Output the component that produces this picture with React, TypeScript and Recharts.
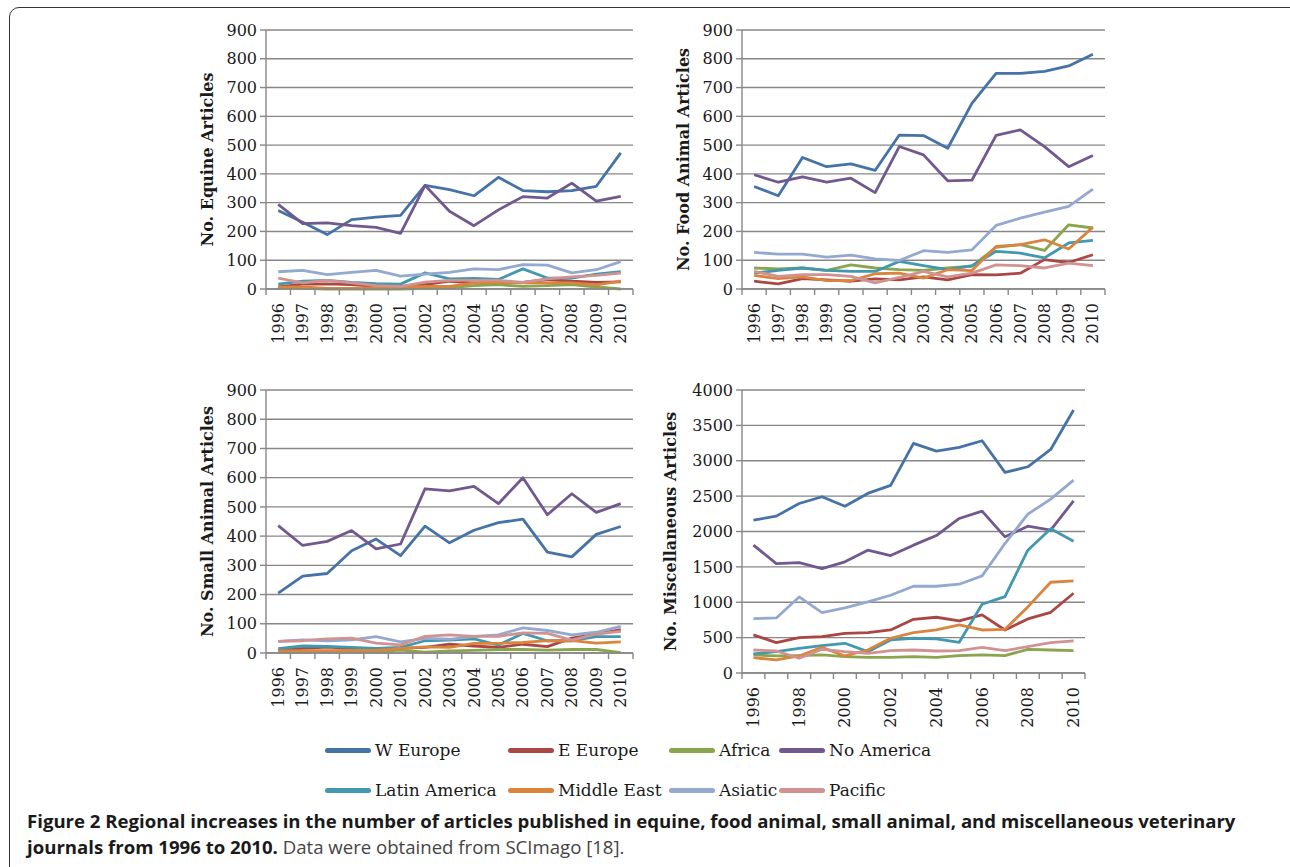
import React from 'react';
import { LineChart, Line, XAxis, YAxis, CartesianGrid, Label } from 'recharts';

const years = [1996, 1997, 1998, 1999, 2000, 2001, 2002, 2003, 2004, 2005, 2006, 2007, 2008, 2009, 2010];
const regions = ['W Europe', 'E Europe', 'Africa', 'No America', 'Latin America', 'Middle East', 'Asiatic', 'Pacific'];
const regionColors = ['#4572A7', '#AA4643', '#89A54E', '#71588F', '#4198AF', '#DB843D', '#93A9CF', '#D19392'];

// Equine
const equineWEurope = [273, 232, 189, 241, 250, 256, 360, 345, 324, 388, 342, 338, 342, 357, 473];
const equineEEurope = [7, 17, 18, 15, 9, 7, 15, 27, 21, 21, 23, 33, 27, 23, 25];
const equineAfrica = [2, 2, 0, 0, 0, 0, 2, 5, 12, 15, 9, 12, 15, 7, 0];
const equineNoAmerica = [294, 227, 230, 220, 214, 193, 360, 270, 220, 275, 321, 316, 368, 305, 322];
const equineLatinAmerica = [17, 27, 30, 23, 19, 17, 56, 35, 37, 33, 70, 38, 38, 52, 60];
const equineMiddleEast = [6, 7, 2, 2, 4, 6, 9, 9, 21, 23, 21, 21, 21, 14, 27];
const equineAsiatic = [60, 65, 50, 58, 65, 45, 52, 58, 70, 67, 85, 83, 56, 67, 95];
const equinePacific = [38, 21, 30, 21, 12, 9, 24, 30, 30, 30, 23, 35, 42, 47, 55];

// Food animal
const foodWEurope = [356, 324, 457, 425, 435, 412, 535, 533, 489, 645, 749, 749, 756, 775, 816];
const foodEEurope = [27, 18, 36, 32, 27, 35, 32, 42, 32, 50, 49, 55, 102, 92, 119];
const foodAfrica = [73, 70, 73, 65, 84, 73, 67, 65, 73, 79, 145, 154, 134, 223, 212];
const foodNoAmerica = [397, 371, 390, 371, 385, 335, 495, 466, 376, 378, 534, 553, 495, 425, 464];
const foodLatinAmerica = [55, 65, 73, 65, 61, 61, 96, 81, 67, 81, 131, 125, 108, 160, 169];
const foodMiddleEast = [47, 36, 42, 29, 29, 53, 55, 38, 67, 64, 148, 154, 171, 139, 215];
const foodAsiatic = [127, 121, 121, 111, 118, 105, 99, 133, 127, 136, 221, 246, 267, 287, 347];
const foodPacific = [61, 44, 50, 50, 44, 21, 40, 61, 42, 55, 84, 81, 73, 90, 81];

// Small animal
const smallWEurope = [205, 263, 272, 350, 390, 333, 434, 377, 420, 446, 458, 345, 329, 406, 433];
const smallEEurope = [9, 16, 20, 16, 13, 16, 19, 30, 24, 19, 30, 22, 51, 65, 80];
const smallAfrica = [5, 7, 7, 7, 5, 10, 3, 7, 9, 12, 12, 10, 12, 12, 1];
const smallNoAmerica = [436, 368, 382, 419, 356, 373, 562, 555, 570, 511, 600, 473, 545, 481, 511];
const smallLatinAmerica = [15, 24, 23, 19, 16, 19, 42, 44, 48, 27, 67, 42, 42, 56, 56];
const smallMiddleEast = [7, 7, 7, 9, 9, 16, 21, 19, 33, 33, 36, 42, 42, 34, 38];
const smallAsiatic = [40, 45, 42, 45, 56, 38, 50, 47, 57, 62, 86, 77, 62, 71, 91];
const smallPacific = [40, 42, 48, 51, 34, 28, 57, 62, 57, 57, 69, 67, 44, 65, 74];

// Miscellaneous
const miscWEurope = [2160, 2217, 2396, 2491, 2358, 2538, 2651, 3245, 3137, 3189, 3283, 2835, 2915, 3160, 3717];
const miscEEurope = [538, 429, 500, 514, 561, 571, 608, 759, 788, 736, 821, 608, 764, 858, 1127];
const miscAfrica = [255, 241, 245, 255, 231, 222, 222, 231, 222, 245, 255, 245, 335, 325, 316];
const miscNoAmerica = [1807, 1547, 1561, 1476, 1571, 1736, 1660, 1807, 1943, 2184, 2288, 1925, 2075, 2019, 2434];
const miscLatinAmerica = [269, 302, 349, 387, 420, 302, 467, 491, 481, 434, 972, 1080, 1736, 2038, 1863];
const miscMiddleEast = [217, 184, 241, 363, 241, 325, 491, 571, 608, 679, 608, 618, 934, 1283, 1302];
const miscAsiatic = [769, 778, 1075, 854, 920, 1005, 1099, 1226, 1226, 1255, 1373, 1830, 2245, 2458, 2726];
const miscPacific = [325, 311, 208, 335, 302, 278, 316, 325, 311, 316, 363, 316, 373, 429, 453];

const ticks900 = [0, 100, 200, 300, 400, 500, 600, 700, 800, 900];
const ticks4000 = [0, 500, 1000, 1500, 2000, 2500, 3000, 3500, 4000];

const buildRows = (series: number[][]) =>
  years.map((yr, i) => {
    const row: Record<string, number> = { year: yr };
    regions.forEach((r, k) => {
      row[r] = series[k][i];
    });
    return row;
  });

const equineRows = buildRows([equineWEurope, equineEEurope, equineAfrica, equineNoAmerica, equineLatinAmerica, equineMiddleEast, equineAsiatic, equinePacific]);
const foodRows = buildRows([foodWEurope, foodEEurope, foodAfrica, foodNoAmerica, foodLatinAmerica, foodMiddleEast, foodAsiatic, foodPacific]);
const smallRows = buildRows([smallWEurope, smallEEurope, smallAfrica, smallNoAmerica, smallLatinAmerica, smallMiddleEast, smallAsiatic, smallPacific]);
const miscRows = buildRows([miscWEurope, miscEEurope, miscAfrica, miscNoAmerica, miscLatinAmerica, miscMiddleEast, miscAsiatic, miscPacific]);

const xTicks: number[] = [];
years.forEach((y) => {
  xTicks.push(y - 0.5);
  xTicks.push(y);
});
xTicks.push(years[years.length - 1] + 0.5);

const SERIF = '"DejaVu Serif", serif';
const AXIS_GRAY = '#878787';
const TEXT = '#1a1a1a';

const XTick = (props: any) => {
  const { x, y, payload, every } = props;
  const v = payload.value as number;
  if (v % 1 !== 0) {
    return <line x1={x} x2={x} y1={y} y2={y + 6} stroke={AXIS_GRAY} strokeWidth={1.4} />;
  }
  if ((v - years[0]) % every !== 0) return <g />;
  return (
    <text
      x={x}
      y={y}
      transform={`rotate(-90, ${x}, ${y})`}
      textAnchor="end"
      dx={-14}
      dy="0.35em"
      fontFamily={SERIF}
      fontSize={16}
      fill={TEXT}
    >
      {v}
    </text>
  );
};

const YTitle = (props: any) => {
  const { viewBox, text, gap } = props;
  const cx = viewBox.x + viewBox.width - gap;
  const cy = viewBox.y + viewBox.height / 2;
  return (
    <text
      x={cx}
      y={cy}
      transform={`rotate(-90, ${cx}, ${cy})`}
      textAnchor="middle"
      dy="0.35em"
      fontFamily={SERIF}
      fontWeight="bold"
      fontSize={16}
      fill={TEXT}
    >
      {text}
    </text>
  );
};

const Y_W = 116;
const M_TOP = 20;
const M_RIGHT = 10;
const X_H = 70;

type PanelProps = {
  rows: Record<string, number>[];
  title: string;
  plotLeft: number;
  plotTop: number;
  plotWidth: number;
  plotHeight: number;
  yMax: number;
  yTicks: number[];
  every: number;
  titleGap: number;
};

const Panel = ({ rows, title, plotLeft, plotTop, plotWidth, plotHeight, yMax, yTicks, every, titleGap }: PanelProps) => {
  const width = plotWidth + Y_W + M_RIGHT;
  const height = plotHeight + M_TOP + X_H;
  return (
    <div style={{ position: 'absolute', left: plotLeft - Y_W, top: plotTop - M_TOP, width, height }}>
      <LineChart width={width} height={height} data={rows} margin={{ top: M_TOP, right: M_RIGHT, left: 0, bottom: 0 }}>
        <CartesianGrid vertical={false} stroke={AXIS_GRAY} strokeWidth={1.4} />
        <XAxis
          dataKey="year"
          type="number"
          domain={[years[0] - 0.5, years[years.length - 1] + 0.5]}
          ticks={xTicks}
          interval={0}
          height={X_H}
          tickLine={false}
          tickSize={0}
          tickMargin={0}
          axisLine={{ stroke: AXIS_GRAY, strokeWidth: 1.4 }}
          tick={<XTick every={every} />}
        />
        <YAxis
          width={Y_W}
          domain={[0, yMax]}
          ticks={yTicks}
          interval={0}
          tickSize={6}
          tickMargin={3}
          tickLine={{ stroke: AXIS_GRAY, strokeWidth: 1.4 }}
          axisLine={{ stroke: AXIS_GRAY, strokeWidth: 1.4 }}
          tick={{ fontFamily: SERIF, fontSize: 16, fill: TEXT }}
        >
          <Label content={<YTitle text={title} gap={titleGap} />} />
        </YAxis>
        {regions.map((r, k) => (
          <Line
            key={r}
            dataKey={r}
            type="linear"
            stroke={regionColors[k]}
            strokeWidth={2.8}
            dot={false}
            activeDot={false}
            isAnimationActive={false}
            strokeLinejoin="round"
          />
        ))}
      </LineChart>
    </div>
  );
};

const legendRows = [regions.slice(0, 4), regions.slice(4, 8)];
const legendCols = [325, 508, 669, 779];
const legendRowY = [750, 790];

export default function App() {
  return (
    <div
      style={{
        position: 'absolute',
        left: 0,
        top: 0,
        width: 1290,
        height: 867,
        overflow: 'hidden',
        background: '#fff',
      }}
    >
      <div
        style={{
          position: 'absolute',
          left: 9,
          top: 7,
          width: 1300,
          height: 870,
          border: '1.6px solid #333',
          borderRadius: 10,
          boxSizing: 'border-box',
        }}
      />
      <Panel rows={equineRows} title="No. Equine Articles" plotLeft={266} plotTop={30} plotWidth={367} plotHeight={259} yMax={900} yTicks={ticks900} every={1} titleGap={59} />
      <Panel rows={foodRows} title="No. Food Animal Articles" plotLeft={742} plotTop={30} plotWidth={363} plotHeight={259} yMax={900} yTicks={ticks900} every={1} titleGap={59} />
      <Panel rows={smallRows} title="No. Small Animal Articles" plotLeft={266} plotTop={390} plotWidth={367} plotHeight={263} yMax={900} yTicks={ticks900} every={1} titleGap={59} />
      <Panel rows={miscRows} title="No. Miscellaneous Articles" plotLeft={742} plotTop={390} plotWidth={343} plotHeight={283} yMax={4000} yTicks={ticks4000} every={2} titleGap={72} />

      {legendRows.map((row, ri) =>
        row.map((name, ci) => {
          const k = regions.indexOf(name);
          return (
            <div
              key={name}
              style={{
                position: 'absolute',
                left: legendCols[ci],
                top: legendRowY[ri] - 12,
                height: 24,
                display: 'flex',
                alignItems: 'center',
                whiteSpace: 'nowrap',
              }}
            >
              <span
                style={{
                  display: 'inline-block',
                  width: 46,
                  height: 5,
                  borderRadius: 3,
                  background: regionColors[k],
                  marginRight: 4,
                }}
              />
              <span style={{ fontFamily: SERIF, fontSize: 17, color: TEXT }}>{name}</span>
            </div>
          );
        })
      )}

      <div
        style={{
          position: 'absolute',
          left: 27,
          top: 808,
          fontFamily: '"Open Sans", sans-serif',
          fontSize: 18.6,
          lineHeight: '26px',
          color: '#1a1a1a',
          whiteSpace: 'nowrap',
        }}
      >
        <b>
          Figure 2 Regional increases in the number of articles published in equine, food animal, small animal, and miscellaneous veterinary
        </b>
        <br />
        <b>journals from 1996 to 2010.</b>
        <span style={{ color: '#444' }}> Data were obtained from SCImago [18].</span>
      </div>
    </div>
  );
}
